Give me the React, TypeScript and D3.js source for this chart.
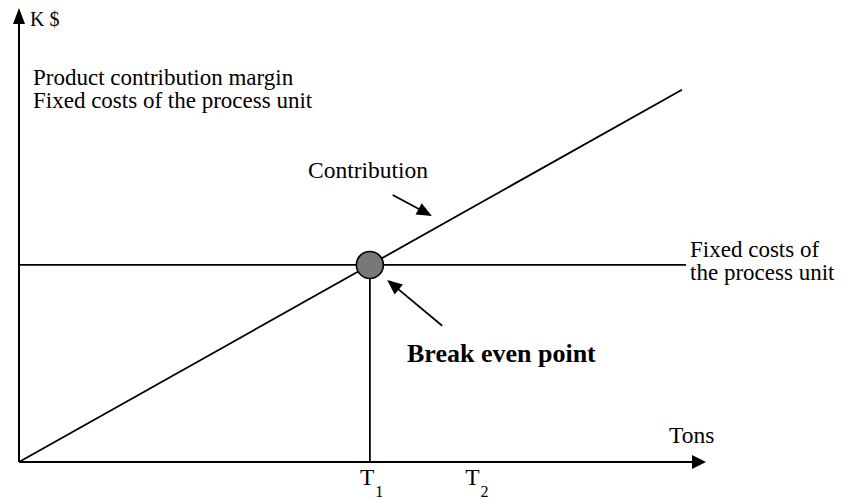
import React, { useEffect, useRef } from "react";
import * as d3 from "d3";

// chart values (tons on x, K$ on y, arbitrary 0-100 units)
const contributionLine = [
  { tons: 0, value: 0 },
  { tons: 96.5, value: 82 },
];
const fixedCostValue = 43.4;
const fixedCostEnd = 97.1;
const tickLabels = [
  { name: "T", sub: "1", tons: null as number | null }, // at break even
  { name: "T", sub: "2", tons: 66.4 },
];
const topLabels = ["Product contribution margin", "Fixed costs of the process unit"];
const fixedLabels = ["Fixed costs of", "the process unit"];

// annotation arrows in data units
const contributionArrow = { from: [54.4, 58.8], to: [60.1, 54.2] };
const breakEvenArrow = { from: [61.6, 30.0], to: [53.6, 40.1] };

const FONT = "'Liberation Serif', 'Times New Roman', serif";

export default function App() {
  const svgRef = useRef<SVGSVGElement>(null);

  useEffect(() => {
    document.body.style.margin = "0";
    drawChart();
  }, []);

  const drawChart = () => {
    const width = 843;
    const height = 499;
    const originX = 19;
    const originY = 462;

    d3.select(svgRef.current).selectAll("*").remove();

    const svg = d3
      .select(svgRef.current)
      .attr("width", width)
      .attr("height", height)
      .attr("viewBox", [0, 0, width, height])
      .style("font-family", FONT)
      .style("display", "block");

    svg.append("rect").attr("width", width).attr("height", height).attr("fill", "white");

    const x = d3.scaleLinear().domain([0, 100]).range([originX, 706]);
    const y = d3.scaleLinear().domain([0, 100]).range([originY, 8]);

    const slope = contributionLine[1].value / contributionLine[1].tons;
    const breakEven = fixedCostValue / slope;

    const arrowHead = (tx: number, ty: number, angle: number, len: number, half: number) => {
      const bx = tx - Math.cos(angle) * len;
      const by = ty - Math.sin(angle) * len;
      const px = -Math.sin(angle) * half;
      const py = Math.cos(angle) * half;
      return `M${tx},${ty}L${bx + px},${by + py}L${bx - px},${by - py}Z`;
    };

    const line = d3
      .line<{ tons: number; value: number }>()
      .x((d) => x(d.tons))
      .y((d) => y(d.value));

    // axes
    svg
      .append("line")
      .attr("x1", x(0))
      .attr("y1", y(0))
      .attr("x2", x(0))
      .attr("y2", y(100) + 14)
      .attr("stroke", "black")
      .attr("stroke-width", 2);
    svg.append("path").attr("d", arrowHead(x(0), y(100), -Math.PI / 2, 16, 6)).attr("fill", "black");

    svg
      .append("line")
      .attr("x1", x(0))
      .attr("y1", y(0))
      .attr("x2", x(100) - 12)
      .attr("y2", y(0))
      .attr("stroke", "black")
      .attr("stroke-width", 2);
    svg.append("path").attr("d", arrowHead(x(100), y(0), 0, 14, 7)).attr("fill", "black");

    // fixed costs line
    svg
      .append("line")
      .attr("x1", x(0))
      .attr("y1", y(fixedCostValue))
      .attr("x2", x(fixedCostEnd))
      .attr("y2", y(fixedCostValue))
      .attr("stroke", "black")
      .attr("stroke-width", 1.8);

    // contribution line
    svg
      .append("path")
      .attr("d", line(contributionLine))
      .attr("fill", "none")
      .attr("stroke", "black")
      .attr("stroke-width", 1.8);

    // vertical drop to T1
    svg
      .append("line")
      .attr("x1", x(breakEven))
      .attr("y1", y(fixedCostValue))
      .attr("x2", x(breakEven))
      .attr("y2", y(0))
      .attr("stroke", "black")
      .attr("stroke-width", 1.8);

    // break even point
    svg
      .append("circle")
      .attr("cx", x(breakEven))
      .attr("cy", y(fixedCostValue))
      .attr("r", 13.5)
      .attr("fill", "#787878")
      .attr("stroke", "black")
      .attr("stroke-width", 1.6);

    // annotation arrows
    [contributionArrow, breakEvenArrow].forEach((a) => {
      const x1 = x(a.from[0]);
      const y1 = y(a.from[1]);
      const x2 = x(a.to[0]);
      const y2 = y(a.to[1]);
      const ang = Math.atan2(y2 - y1, x2 - x1);
      svg
        .append("line")
        .attr("x1", x1)
        .attr("y1", y1)
        .attr("x2", x2 - Math.cos(ang) * 10)
        .attr("y2", y2 - Math.sin(ang) * 10)
        .attr("stroke", "black")
        .attr("stroke-width", 1.8);
      svg.append("path").attr("d", arrowHead(x2, y2, ang, 15, 6.5)).attr("fill", "black");
    });

    // texts
    svg
      .append("text")
      .attr("x", 30)
      .attr("y", 26)
      .attr("font-size", 20)
      .text("K $");

    svg
      .append("g")
      .attr("font-size", 23)
      .selectAll("text")
      .data(topLabels)
      .join("text")
      .attr("x", 33)
      .attr("y", (d, i) => 85 + i * 23)
      .text((d) => d);

    svg
      .append("text")
      .attr("x", 308)
      .attr("y", 178)
      .attr("font-size", 23.5)
      .text("Contribution");

    svg
      .append("g")
      .attr("font-size", 23)
      .selectAll("text")
      .data(fixedLabels)
      .join("text")
      .attr("x", x(fixedCostEnd) + 4)
      .attr("y", (d, i) => 257 + i * 23)
      .text((d) => d);

    svg
      .append("text")
      .attr("x", 407)
      .attr("y", 362)
      .attr("font-size", 26)
      .attr("font-weight", "bold")
      .text("Break even point");

    svg
      .append("text")
      .attr("x", 669)
      .attr("y", 443)
      .attr("font-size", 23.5)
      .text("Tons");

    // T1 / T2 tick labels
    const ticks = svg
      .append("g")
      .selectAll("text")
      .data(tickLabels)
      .join("text")
      .attr("x", (d) => x(d.tons === null ? breakEven : d.tons) - 10)
      .attr("y", 485)
      .attr("font-size", 23.5);
    ticks.append("tspan").text((d) => d.name);
    ticks
      .append("tspan")
      .attr("font-size", 16)
      .attr("dx", 1)
      .attr("dy", 12)
      .text((d) => d.sub);
  };

  return <svg ref={svgRef}></svg>;
}
